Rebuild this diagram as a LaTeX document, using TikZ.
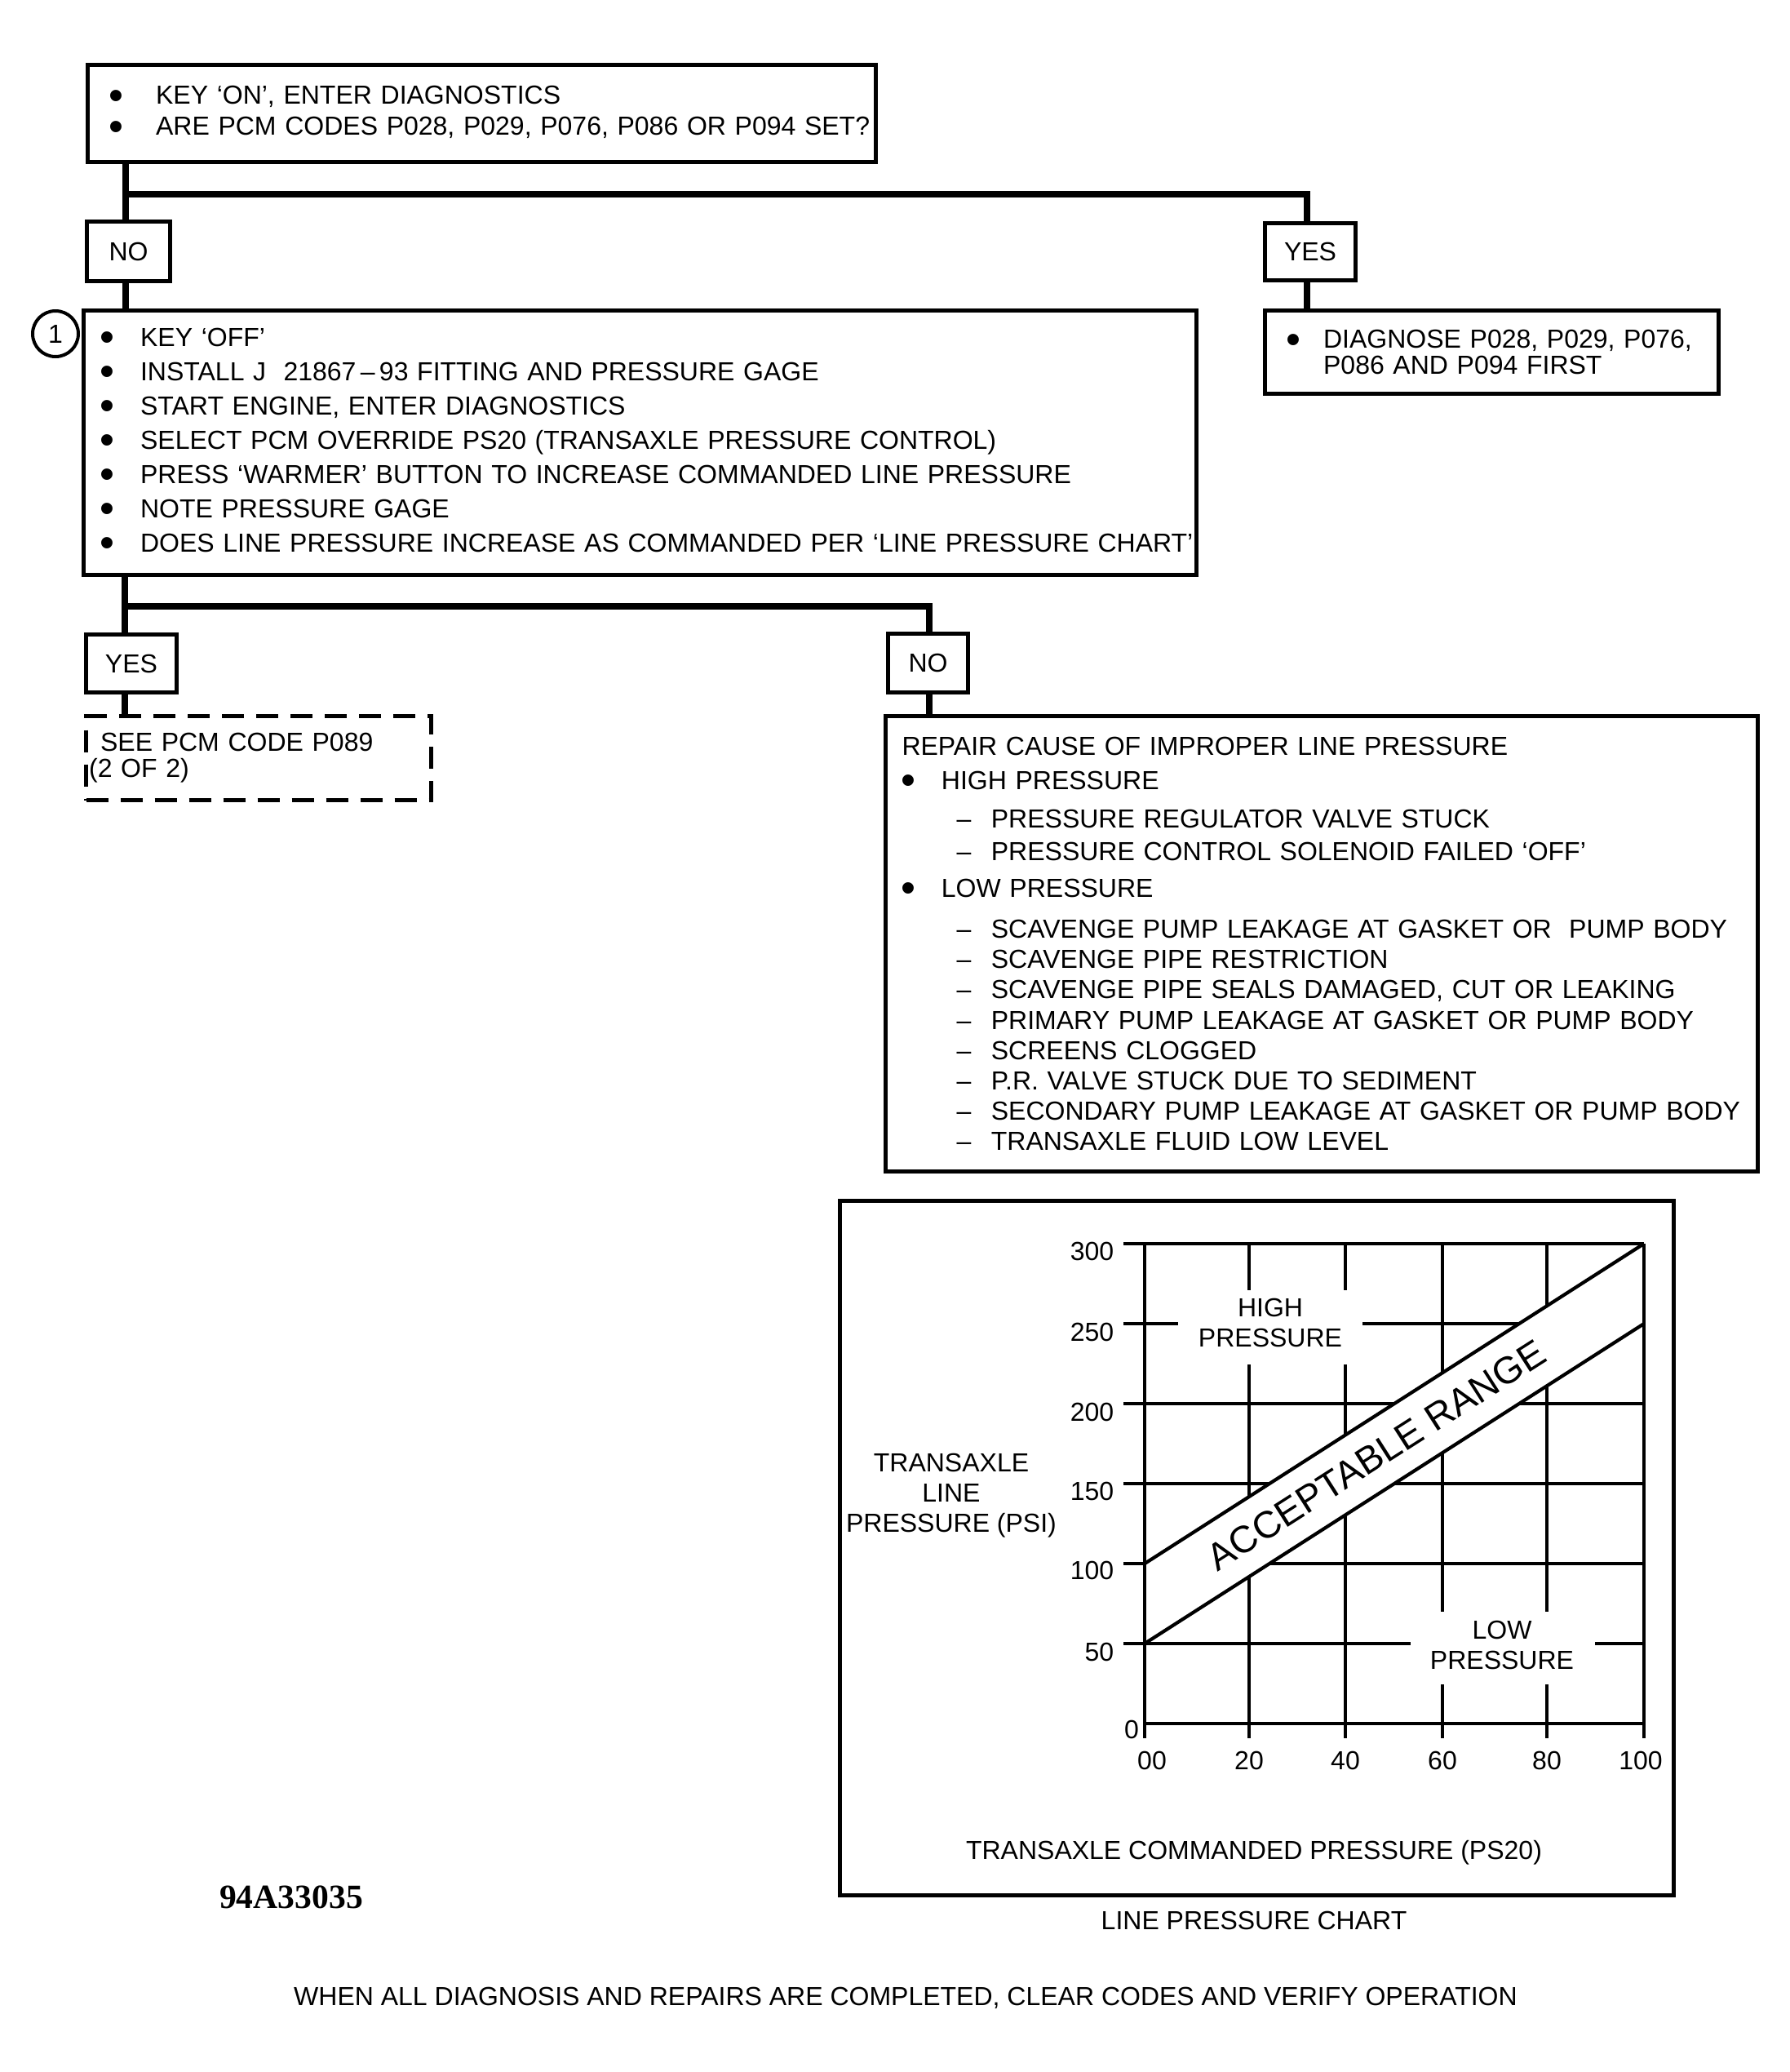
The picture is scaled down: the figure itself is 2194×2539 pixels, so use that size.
\documentclass[tikz,border=0pt]{standalone}
\usepackage{fontspec}
\setmainfont{Liberation Sans}
\newfontfamily\figfont{Liberation Serif}
\newcommand\bdot{\hspace*{-0.9pt}\raisebox{-0.2em}{\scalebox{1.6}{\textbullet}}}
\newcommand\bu[1]{\makebox[#1][l]{\bdot}}
\newcommand\sbi{\hspace*{16.75pt}\makebox[10.6pt][l]{\textendash}}
\begin{document}
\begin{tikzpicture}[x=0.25pt,y=-0.25pt,
  every node/.style={font=\fontsize{8pt}{9.5pt}\selectfont, inner sep=0pt},
  box/.style={draw, line width=1.25pt, anchor=north west, align=left},
  tag/.style={draw, line width=1.25pt, anchor=north west},
  conn/.style={line width=2.2pt},
  gridline/.style={line width=1.1pt},
  bandline/.style={line width=1.05pt},
  ylab/.style={anchor=east},
]
\useasboundingbox (0,0) rectangle (2194,2539);

% ---------- flowchart boxes ----------
\node[box, minimum width=241.5pt, minimum height=29.75pt, inner xsep=7.35pt, text width=226.8pt,
      font=\fontsize{8pt}{9.5pt}\selectfont] (top) at (105,77)
  {\bu{13.55pt}\mbox{KEY ‘ON’, ENTER DIAGNOSTICS}\\
   \bu{13.55pt}\mbox{ARE PCM CODES P028, P029, P076, P086 OR P094 SET?}};

\node[tag, minimum width=25.5pt, minimum height=18.25pt] (no1) at (104,269) {NO};
\node[tag, minimum width=27.75pt, minimum height=17.5pt] (yes1) at (1548,271) {YES};

\node[box, minimum width=341pt, minimum height=81pt, inner xsep=5.85pt, text width=329.3pt,
      font=\fontsize{8pt}{10.5pt}\selectfont] (box2) at (100,378)
  {\bu{11.55pt}KEY ‘OFF’\\
   \bu{11.55pt}INSTALL J\ \ 21867\,–\,93 FITTING AND PRESSURE GAGE\\
   \bu{11.55pt}START ENGINE, ENTER DIAGNOSTICS\\
   \bu{11.55pt}SELECT PCM OVERRIDE PS20 (TRANSAXLE PRESSURE CONTROL)\\
   \bu{11.55pt}PRESS ‘WARMER’ BUTTON TO INCREASE COMMANDED LINE PRESSURE\\
   \bu{11.55pt}NOTE PRESSURE GAGE\\
   \bu{11.55pt}\mbox{DOES LINE PRESSURE INCREASE AS COMMANDED PER ‘LINE PRESSURE CHART’}};

\node[circle, draw, line width=1pt, minimum size=14pt] (step1) at (68,409) {1};

\node[box, minimum width=139pt, minimum height=25.5pt, inner xsep=7.35pt, text width=124.3pt,
      font=\fontsize{8pt}{7.9pt}\selectfont] (diag) at (1548,378)
  {\bu{10.55pt}\mbox{DIAGNOSE P028, P029, P076,}\\
   \hspace*{10.55pt}P086 AND P094 FIRST};

\node[tag, minimum width=27.75pt, minimum height=17.75pt] (yes2) at (103,775) {YES};
\node[tag, minimum width=24.5pt, minimum height=18pt] (no2) at (1086,774) {NO};

\node[box, draw, dash pattern=on 6.75pt off 3.75pt, minimum width=105.75pt, minimum height=25.75pt,
      inner xsep=4.4pt, text width=96.95pt, font=\fontsize{8pt}{8pt}\selectfont] (see) at (103,875)
  {SEE PCM CODE P089\\\hspace*{-3.5pt}(2 OF 2)};

\node[box, minimum width=267.25pt, minimum height=139.5pt, inner xsep=5pt, text width=257.25pt,
      font=\fontsize{8pt}{9.3pt}\selectfont] (repair) at (1083,875)
  {REPAIR CAUSE OF IMPROPER LINE PRESSURE\\[1.2pt]
   \hspace*{0.6pt}\bu{11.5pt}HIGH PRESSURE\\[2.6pt]
   \sbi PRESSURE REGULATOR VALVE STUCK\\[0.55pt]
   \sbi PRESSURE CONTROL SOLENOID FAILED ‘OFF’\\[1.95pt]
   \hspace*{0.6pt}\bu{11.5pt}LOW PRESSURE\\[3.3pt]
   \sbi\mbox{SCAVENGE PUMP LEAKAGE AT GASKET OR\ \ PUMP BODY}\\
   \sbi SCAVENGE PIPE RESTRICTION\\
   \sbi\mbox{SCAVENGE PIPE SEALS DAMAGED, CUT OR LEAKING}\\
   \sbi\mbox{PRIMARY PUMP LEAKAGE AT GASKET OR PUMP BODY}\\
   \sbi SCREENS CLOGGED\\
   \sbi P.R. VALVE STUCK DUE TO SEDIMENT\\
   \sbi\mbox{SECONDARY PUMP LEAKAGE AT GASKET OR PUMP BODY}\\
   \sbi TRANSAXLE FLUID LOW LEVEL};

% ---------- connectors ----------
\coordinate (ja) at (154,238);
\coordinate (jb) at (153,743);
\coordinate (cxB) at (1602,0);
\coordinate (cxD) at (1139,0);
\draw[conn] (top.south -| ja) -- (no1.north -| ja);
\draw[conn] (ja) -| (yes1.north -| cxB);
\draw[conn] (no1.south -| ja) -- (box2.north -| ja);
\draw[conn] (yes1.south -| cxB) -- (diag.north -| cxB);
\draw[conn] (box2.south -| jb) -- (yes2.north -| jb);
\draw[conn] (jb) -| (no2.north -| cxD);
\draw[conn] (yes2.south -| jb) -- (see.north -| jb);
\draw[conn] (no2.south -| cxD) -- (repair.north -| cxD);

% ---------- chart ----------
\node[draw, line width=1.2pt, anchor=north west, minimum width=255.5pt, minimum height=212.75pt] (chart) at (1027,1469) {};

% horizontal grid lines
\draw[gridline] (1377,1524) -- (2015,1524);
\draw[gridline] (1377,1622) -- (1444,1622) (1670,1622) -- (2015,1622);
\draw[gridline] (1377,1720) -- (2015,1720);
\draw[gridline] (1377,1818) -- (2015,1818);
\draw[gridline] (1377,1916) -- (2015,1916);
\draw[gridline] (1377,2014) -- (1729,2014) (1955,2014) -- (2015,2014);
\draw[gridline] (1403,2112) -- (2015,2112);
% vertical grid lines
\draw[gridline] (1531,1524) -- (1531,1581) (1531,1672) -- (1531,2130);
\draw[gridline] (1649,1524) -- (1649,1581) (1649,1672) -- (1649,2130);
\draw[gridline] (1768,1524) -- (1768,1975) (1768,2064) -- (1768,2130);
\draw[gridline] (1896,1524) -- (1896,1975) (1896,2064) -- (1896,2130);
% acceptable band
\fill[white] (1403,1916) -- (2015,1524) -- (2015,1622) -- (1403,2014) -- cycle;
\draw[gridline] (1403,1524) -- (1403,2130);
\draw[gridline] (2015,1524) -- (2015,2130);
\draw[bandline] (1403,1916) -- (2015,1524);
\draw[bandline] (1403,2014) -- (2015,1622);
\node[rotate=32.6, font=\fontsize{11.6pt}{12pt}\selectfont] (acc) at (1687,1783) {ACCEPTABLE RANGE};

% axis labels
\node[ylab] (y300) at (1366,1533) {300};
\node[ylab] (y250) at (1366,1632) {250};
\node[ylab] (y200) at (1366,1730) {200};
\node[ylab] (y150) at (1366,1827) {150};
\node[ylab] (y100) at (1366,1924) {100};
\node[ylab] (y50) at (1366,2024) {50};
\node (y0) at (1387,2119) {0};
\node (x0) at (1412,2157) {00};
\node (x20) at (1531,2157) {20};
\node (x40) at (1649,2157) {40};
\node (x60) at (1768,2157) {60};
\node (x80) at (1896,2157) {80};
\node (x100) at (2011,2157) {100};

\node[align=center, font=\fontsize{8pt}{9.25pt}\selectfont] (ytitle) at (1166,1833) {TRANSAXLE\\LINE\\PRESSURE (PSI)};
\node[align=center, font=\fontsize{8pt}{9.25pt}\selectfont] (high) at (1557,1621) {HIGH\\PRESSURE};
\node[align=center, font=\fontsize{8pt}{9.25pt}\selectfont] (low) at (1841,2016) {LOW\\PRESSURE};
\node (xtitle) at (1537,2270) {TRANSAXLE COMMANDED PRESSURE (PS20)};
\node (ctitle) at (1537,2353) {LINE PRESSURE CHART};

% footer
\node[font=\figfont\bfseries\fontsize{10.4pt}{12pt}\selectfont] (figno) at (357,2325) {94A33035};
\node (footer) at (1110,2448) {WHEN ALL DIAGNOSIS AND REPAIRS ARE COMPLETED, CLEAR CODES AND VERIFY OPERATION};
\end{tikzpicture}
\end{document}
